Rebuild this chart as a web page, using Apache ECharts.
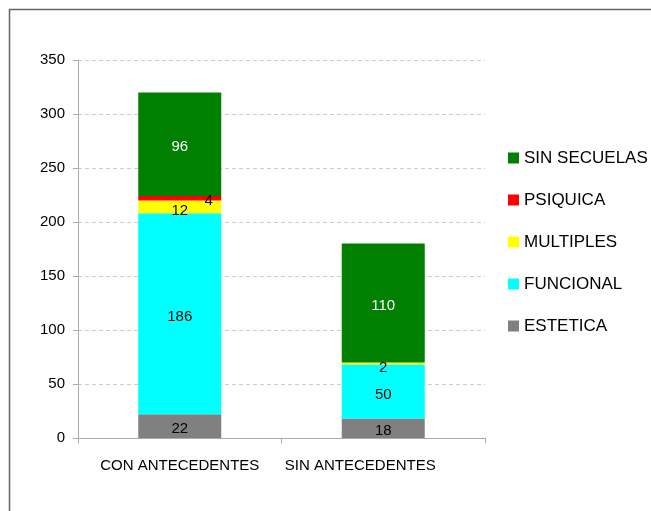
<!DOCTYPE html>
<html>
<head>
<meta charset="utf-8">
<script src="https://cdn.jsdelivr.net/npm/echarts@6/dist/echarts.min.js"></script>
<style>
  html, body { margin: 0; padding: 0; background: #fff; }
  #chart { width: 651px; height: 511px; }
</style>
</head>
<body>
<div id="chart"></div>
<script>
const categories = ['CON ANTECEDENTES', 'SIN ANTECEDENTES']
const estetica = [22, 18]
const funcional = [186, 50]
const multiples = [12, 2]
const psiquica = [4, 0]
const sinSecuelas = [96, 110]
const yTicks = [0, 50, 100, 150, 200, 250, 300, 350]

const font = "'Liberation Sans', Arial, Helvetica, sans-serif"
const chart = echarts.init(document.getElementById('chart'))

function barSeries(name, data, color, label) {
  return {
    name,
    type: 'bar',
    stack: 'total',
    data,
    barWidth: 83,
    itemStyle: { color },
    label: Object.assign({
      show: true,
      position: 'inside',
      fontFamily: font,
      fontSize: 15,
      color: '#000',
      offset: [0, 3],
      formatter: (p) => (p.value ? p.value : ''),
    }, label || {}),
    emphasis: { disabled: true },
  }
}

chart.setOption({
  animation: false,
  graphic: [{
    type: 'rect',
    shape: { x: 9.5, y: 9.5, width: 700, height: 600 },
    style: { fill: 'none', stroke: '#666', lineWidth: 1.5 },
  }],
  grid: { left: 78, top: 60, width: 407, height: 378 },
  legend: {
    orient: 'vertical',
    left: 503,
    top: 143,
    icon: 'rect',
    itemWidth: 11,
    itemHeight: 11,
    itemGap: 22,
    textStyle: { fontFamily: font, fontSize: 17, color: '#000', lineHeight: 20 },
    data: ['SIN SECUELAS', 'PSIQUICA', 'MULTIPLES', 'FUNCIONAL', 'ESTETICA'],
    selectedMode: false,
  },
  xAxis: {
    type: 'category',
    data: [categories[0], { value: categories[1], textStyle: { padding: [0, 46, 0, 0] } }],
    axisLine: { lineStyle: { color: '#aaa' } },
    axisTick: { show: true, interval: 0, length: 5, lineStyle: { color: '#aaa' } },
    axisLabel: { interval: 0, hideOverlap: false, fontFamily: font, fontSize: 15, color: '#000', margin: 20 },
  },
  yAxis: {
    type: 'value',
    min: yTicks[0],
    max: yTicks[yTicks.length - 1],
    interval: 50,
    axisLine: { show: true, lineStyle: { color: '#aaa' } },
    axisTick: { show: true, length: 5, lineStyle: { color: '#aaa' } },
    axisLabel: { fontFamily: font, fontSize: 15, color: '#000', margin: 13 },
    splitLine: { lineStyle: { color: '#ccc', type: [4, 3] } },
  },
  series: [
    barSeries('ESTETICA', estetica, '#808080'),
    barSeries('FUNCIONAL', funcional, '#00ffff'),
    barSeries('MULTIPLES', multiples, '#ffff00', { offset: [0, 4] }),
    barSeries('PSIQUICA', psiquica, '#ff0000', { offset: [29, 3] }),
    barSeries('SIN SECUELAS', sinSecuelas, '#008000', { color: '#fff' }),
  ],
})
</script>
</body>
</html>
